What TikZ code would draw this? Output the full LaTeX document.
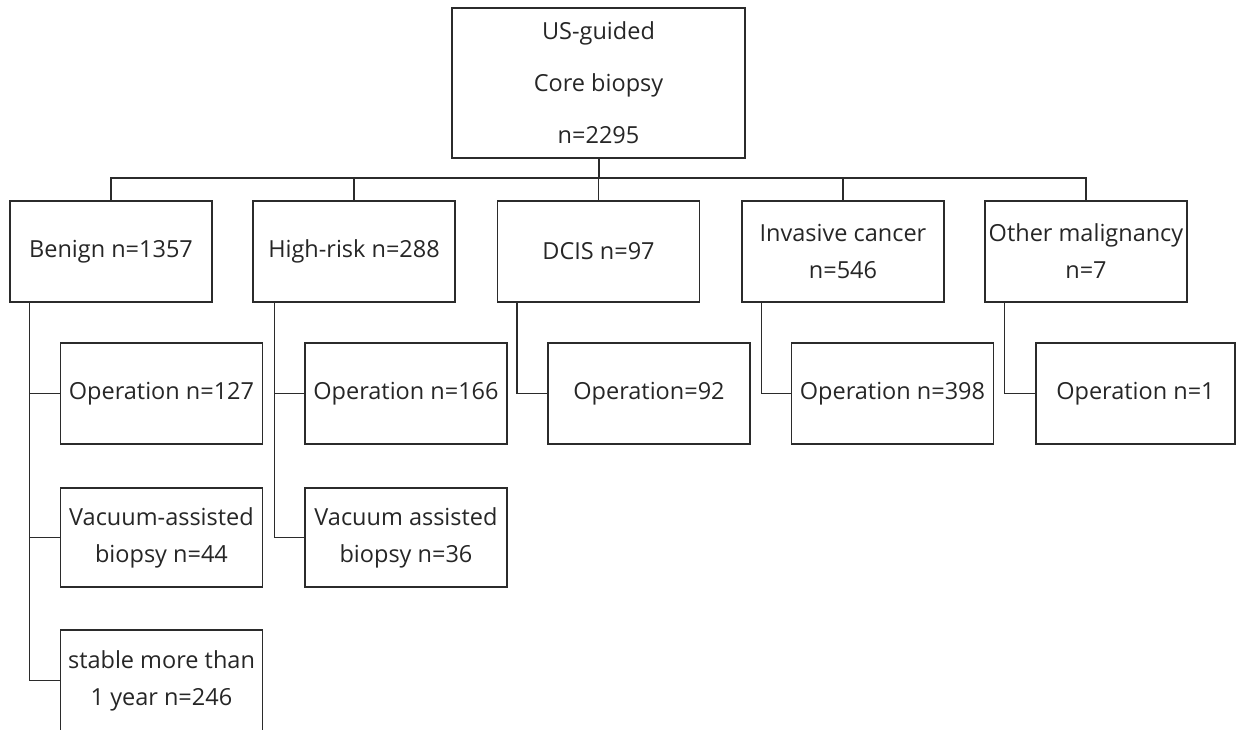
\documentclass[tikz,border=0pt]{standalone}
\usepackage{fontspec}
\setmainfont{Open Sans}
\definecolor{linec}{HTML}{2B2B2B}
\definecolor{textc}{HTML}{262626}
\begin{document}
\begin{tikzpicture}[x=1pt,y=-1pt,
  box/.style={draw=linec,line width=1.3pt,inner sep=0pt,align=center,
    text=textc,font=\fontsize{23.5}{37}\selectfont,
    minimum width=202pt,minimum height=101pt},
  conn/.style={draw=linec,line width=1.3pt}]
\useasboundingbox (0,0) rectangle (1236,729);
\node[box,minimum width=293pt,minimum height=150pt,font=\fontsize{23.5}{52}\selectfont] (top) at (598.5,83) {US-guided\\Core biopsy\\n=2295};
% level 1
\node[box] (benign) at (111,251.5) {Benign n=1357};
\node[box] (high) at (354,251.5) {High-risk n=288};
\node[box] (dcis) at (598.5,251.5) {DCIS n=97};
\node[box] (inv) at (843,251.5) {Invasive cancer\\n=546};
\node[box] (oth) at (1086,251.5) {Other malignancy\\n=7};
% level 2
\node[box] (opB) at (161.5,393.5) {Operation n=127};
\node[box] (opH) at (406,393.5) {Operation n=166};
\node[box] (opD) at (649,393.5) {Operation=92};
\node[box] (opI) at (892.5,393.5) {Operation n=398};
\node[box,minimum width=199pt] (opO) at (1135.5,393.5) {Operation n=1};
\node[box,minimum height=99pt] (vacB) at (161.5,537.5) {Vacuum-assisted\\biopsy n=44};
\node[box,minimum height=99pt] (vacH) at (406,537.5) {Vacuum assisted\\biopsy n=36};
\node[box] (stab) at (161.5,680.5) {stable more than\\1 year n=246};
% bus
\coordinate (busy) at (0,178);
\draw[conn,line width=2pt] (top.south) -- (top.south |- busy);
\draw[conn] (benign.north) -- (benign.north |- busy) -- (oth.north |- busy) -- (oth.north);
\draw[conn] (high.north) -- (high.north |- busy);
\draw[conn] (dcis.north) -- (dcis.north |- busy);
\draw[conn] (inv.north) -- (inv.north |- busy);
% children
\draw[conn] ([xshift=20pt]benign.south west) |- (stab.west);
\draw[conn] ([xshift=20pt]benign.south west |- opB.west) -- (opB.west);
\draw[conn] ([xshift=20pt]benign.south west |- vacB.west) -- (vacB.west);
\draw[conn] ([xshift=22pt]high.south west) |- (vacH.west);
\draw[conn] ([xshift=22pt]high.south west |- opH.west) -- (opH.west);
\draw[conn] ([xshift=20pt]dcis.south west) |- (opD.west);
\draw[conn] ([xshift=20pt]inv.south west) |- (opI.west);
\draw[conn] ([xshift=20pt]oth.south west) |- (opO.west);
\end{tikzpicture}
\end{document}
